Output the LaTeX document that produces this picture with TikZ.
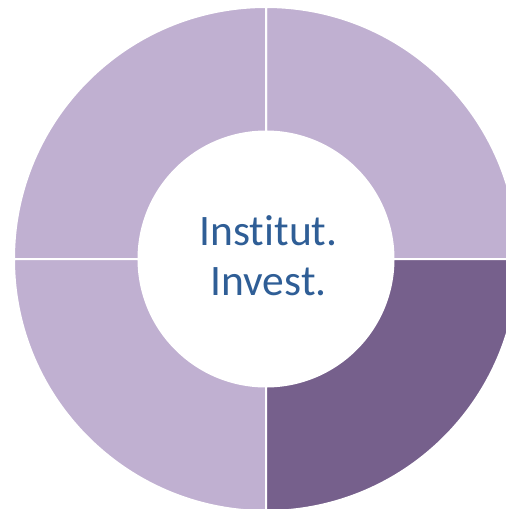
\documentclass[tikz,border=0pt]{standalone}
\usepackage{fontspec}
\setmainfont{Carlito}[Ligatures={NoCommon,NoRequired,NoContextual}]
\definecolor{segLight}{HTML}{C0B0D1}
\definecolor{segDark}{HTML}{76608C}
\definecolor{txtBlue}{HTML}{2F5E96}
\begin{document}
\begin{tikzpicture}[x=1pt,y=1pt,
  seg/.style={draw=white,line width=2pt},
  lbl/.style={text=txtBlue,anchor=base,inner sep=0pt,font=\fontsize{43.5}{50}\selectfont}]
\useasboundingbox (0,-509) rectangle (506,0);
\clip (0,-509) rectangle (506,0);
\coordinate (c) at (266,-259);
\foreach \a/\col in {0/segLight,90/segLight,180/segLight,270/segDark}{
  \pgfmathsetmacro{\b}{\a+90}
  \path[seg,fill=\col] ([shift={(\a:252)}]c) arc[start angle=\a,end angle=\b,radius=252]
    -- ([shift={(\b:127.5)}]c) arc[start angle=\b,end angle=\a,radius=127.5] -- cycle;
}
\node[lbl] (l1) at (268.5,-245) {Institut.};
\node[lbl] (l2) at (268.5,-295) {Invest.};
\end{tikzpicture}
\end{document}
